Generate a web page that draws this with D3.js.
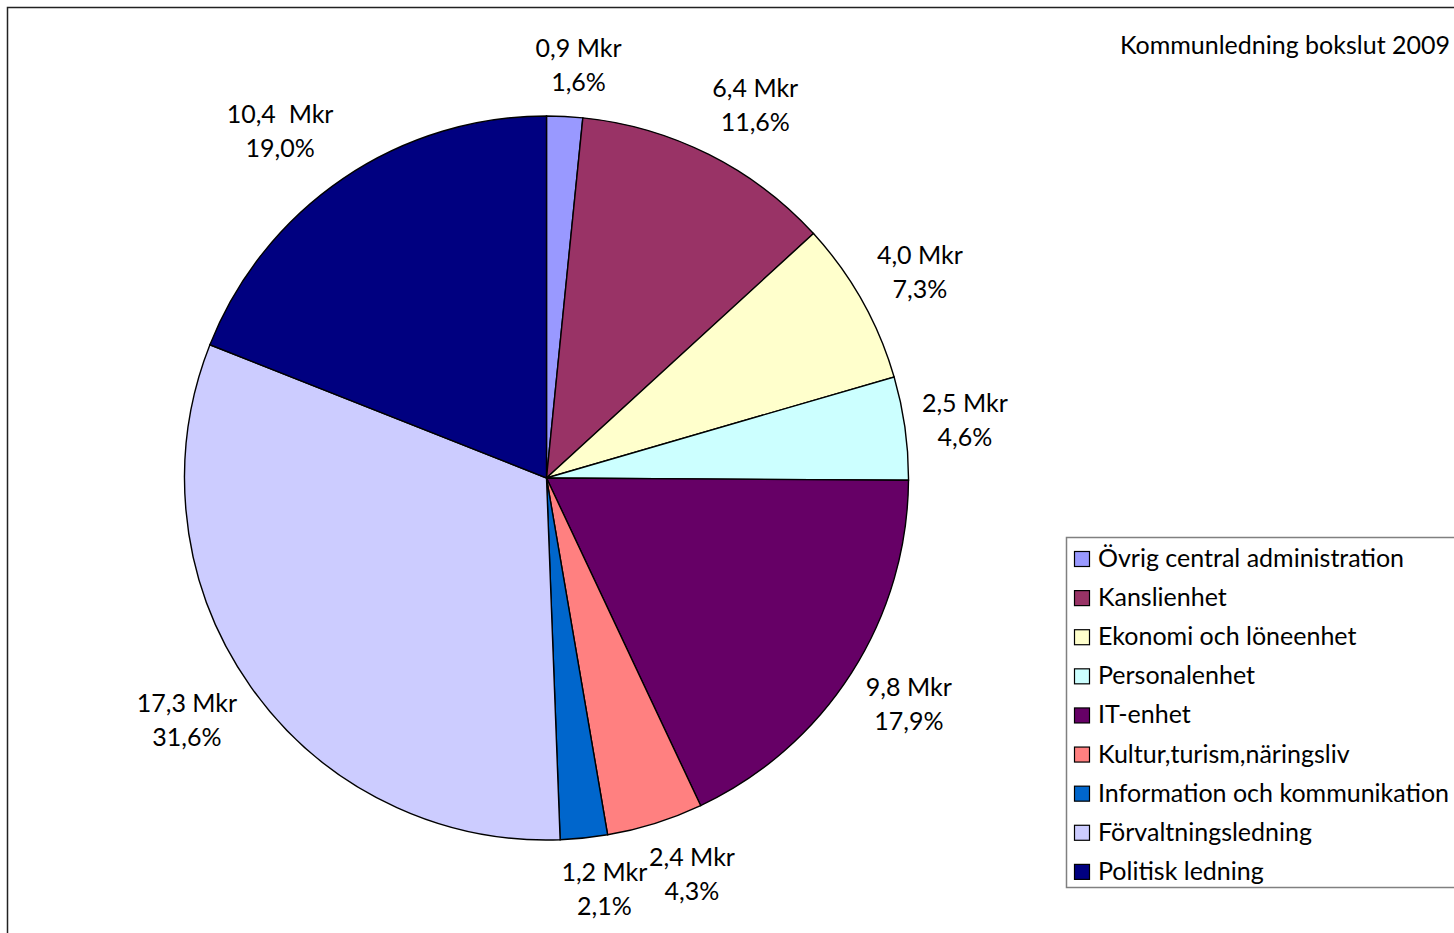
<!DOCTYPE html>
<html>
<head>
<meta charset="utf-8">
<script src="https://cdn.jsdelivr.net/npm/d3@7"></script>
<style>
  body { margin: 0; background: #fff; }
  svg text { font-family: Lato, "DejaVu Sans", sans-serif; fill: #000; white-space: pre; }
</style>
</head>
<body>
<div id="vis"></div>
<script>
// data
const categories = ['Övrig central administration', 'Kanslienhet', 'Ekonomi och löneenhet', 'Personalenhet',
  'IT-enhet', 'Kultur,turism,näringsliv', 'Information och kommunikation', 'Förvaltningsledning', 'Politisk ledning']
const amounts = ['0,9', '6,4', '4,0', '2,5', '9,8', '2,4', '1,2', '17,3', '10,4 ']
const shares = [1.6, 11.6, 7.3, 4.6, 17.9, 4.3, 2.1, 31.6, 19.0]
const colors = ['#9999FF', '#993366', '#FFFFCC', '#CCFFFF', '#660066', '#FF8080', '#0066CC', '#CCCCFF', '#000080']
const title = 'Kommunledning bokslut 2009'

const width = 1454, height = 933
const cx = 546.5, cy = 478, radius = 362
const fontSize = 25

const svg = d3.select('#vis').append('svg')
  .attr('width', width)
  .attr('height', height)

// outer frame (runs off the right and bottom edges)
svg.append('rect')
  .attr('x', 7.5).attr('y', 7.5)
  .attr('width', width + 20).attr('height', height + 20)
  .attr('fill', 'none').attr('stroke', '#222').attr('stroke-width', 1.5)

const data = categories.map((c, i) => ({name: c, amount: amounts[i], share: shares[i], color: colors[i]}))

const pie = d3.pie().sort(null).value(d => d.share)
const arcs = pie(data)
const arc = d3.arc().innerRadius(0).outerRadius(radius)

const g = svg.append('g').attr('transform', `translate(${cx},${cy})`)

g.selectAll('path')
  .data(arcs)
  .enter()
  .append('path')
    .attr('d', arc)
    .attr('fill', d => d.data.color)
    .attr('stroke', '#000')
    .attr('stroke-width', 1.4)

// labels: box placed just outside the rim on the mid angle
const fmtPct = v => v.toFixed(1).replace('.', ',') + '%'
const labelGap = 17, lineH = 34
const pushX = t => Math.sign(t) * Math.min(1, Math.sqrt(Math.abs(t)) * 1.35)
const pushY = t => Math.sign(t) * Math.min(1, Math.abs(t) * 1.2)

const labels = g.selectAll('g.label')
  .data(arcs)
  .enter()
  .append('g')
    .attr('class', 'label')

labels.append('text')
  .attr('class', 'l1')
  .attr('text-anchor', 'middle')
  .attr('font-size', fontSize)
  .text(d => d.data.amount + ' Mkr')

labels.append('text')
  .attr('class', 'l2')
  .attr('text-anchor', 'middle')
  .attr('font-size', fontSize)
  .attr('y', lineH)
  .text(d => fmtPct(d.data.share))

labels.each(function(d) {
  const sel = d3.select(this)
  const w = Math.max(sel.select('.l1').node().getComputedTextLength(), sel.select('.l2').node().getComputedTextLength())
  const h = lineH * 2
  const a = (d.startAngle + d.endAngle) / 2
  const s = Math.sin(a), c = -Math.cos(a)
  const bx = s * (radius + labelGap) + pushX(s) * w / 2
  const by = c * (radius + labelGap) + pushY(c) * h / 2
  sel.attr('transform', `translate(${bx},${by - 8})`)
})

// title
svg.append('text')
  .attr('x', 1450)
  .attr('y', 54)
  .attr('text-anchor', 'end')
  .attr('font-size', fontSize)
  .text(title)

// legend
svg.append('rect')
  .attr('x', 1066.5).attr('y', 537.5)
  .attr('width', 400).attr('height', 350)
  .attr('fill', 'none').attr('stroke', '#808080').attr('stroke-width', 1.5)

const legendY = d3.scaleBand().domain(categories).range([537, 889]).paddingInner(0)
const legend = svg.append('g')

const rows = legend.selectAll('g')
  .data(data)
  .enter()
  .append('g')
    .attr('transform', d => `translate(1074,${legendY(d.name)})`)

rows.append('rect')
  .attr('x', 0.5).attr('y', 14.5)
  .attr('width', 15).attr('height', 15)
  .attr('fill', d => d.color)
  .attr('stroke', '#000').attr('stroke-width', 1.2)

rows.append('text')
  .attr('x', 24)
  .attr('y', 30)
  .attr('font-size', fontSize)
  .text(d => d.name)
</script>
</body>
</html>
